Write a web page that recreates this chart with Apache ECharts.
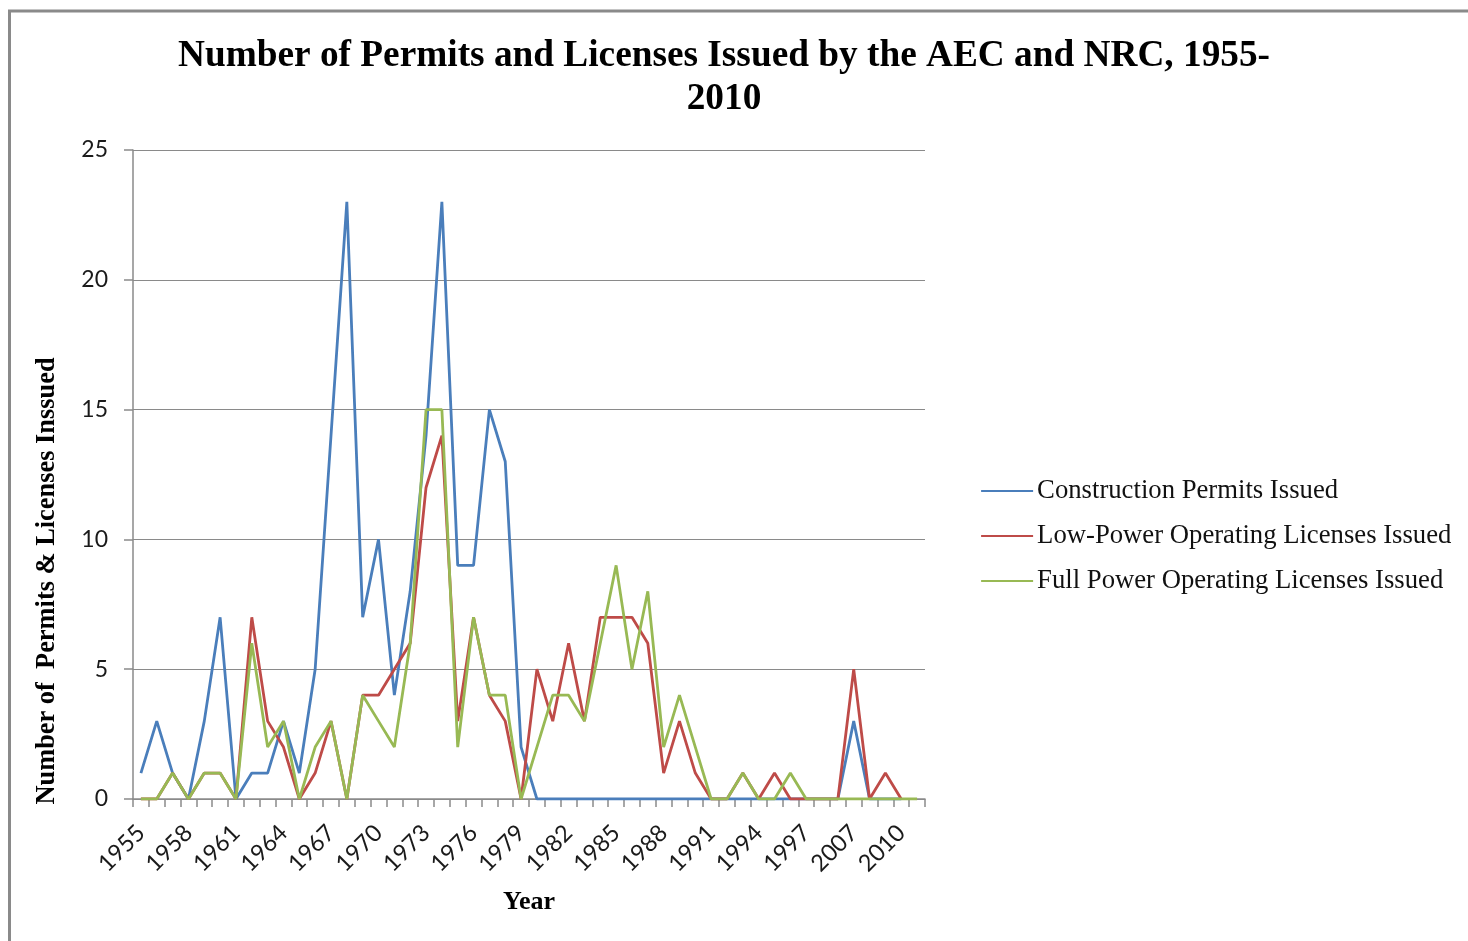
<!DOCTYPE html>
<html>
<head>
<meta charset="utf-8">
<script src="https://cdn.jsdelivr.net/npm/echarts@6/dist/echarts.min.js"></script>
<style>
html,body{margin:0;padding:0;background:#fff;}
#chart{width:1468px;height:941px;}
</style>
</head>
<body>
<div id="chart"></div>
<script>
// ---- data ----
const years = [
  '1955','1956','1957','1958','1959','1960','1961','1962','1963','1964',
  '1965','1966','1967','1968','1969','1970','1971','1972','1973','1974',
  '1975','1976','1977','1978','1979','1980','1981','1982','1983','1984',
  '1985','1986','1987','1988','1989','1990','1991','1992','1993','1994',
  '1995','1996','1997','2005','2006','2007','2008','2009','2010','2011'
];
const constructionPermits = [
  1,3,1,0,3,7,0,1,1,3,
  1,5,14,23,7,10,4,8,14,23,
  9,9,15,13,2,0,0,0,0,0,
  0,0,0,0,0,0,0,0,0,0,
  0,0,0,0,0,3,0,0,0,null
];
const lowPowerLicenses = [
  0,0,1,0,1,1,0,7,3,2,
  0,1,3,0,4,4,5,6,12,14,
  3,7,4,3,0,5,3,6,3,7,
  7,7,6,1,3,1,0,0,1,0,
  1,0,0,0,0,5,0,1,0,null
];
const fullPowerLicenses = [
  0,0,1,0,1,1,0,6,2,3,
  0,2,3,0,4,3,2,6,15,15,
  2,7,4,4,0,2,4,4,3,6,
  9,5,8,2,4,2,0,0,1,0,
  0,1,0,0,0,0,0,0,0,0
];
const seriesNames = [
  'Construction Permits Issued',
  'Low-Power Operating Licenses Issued',
  'Full Power Operating Licenses Issued'
];
const yTicks = [0,5,10,15,20,25];

// ---- chart ----
const chart = echarts.init(document.getElementById('chart'), null, {renderer:'canvas'});
const serif = '"Liberation Serif","Times New Roman",serif';
const sans = 'Lato,"Liberation Sans",sans-serif';
const gray = '#8a8a8a';
const colors = ['#4A7EBB','#BE4B48','#98B954'];
const dataSets = [constructionPermits, lowPowerLicenses, fullPowerLicenses];

const option = {
  animation: false,
  backgroundColor: '#fff',
  color: colors,
  title: {
    text: 'Number of Permits and Licenses Issued by the AEC and NRC, 1955-\n2010',
    left: 724,
    top: 35,
    padding: 0,
    textAlign: 'center',
    textStyle: {
      fontFamily: serif, fontWeight: 'bold', fontSize: 37.3,
      lineHeight: 43, color: '#000'
    }
  },
  legend: {
    orient: 'vertical',
    left: 980,
    top: 476,
    padding: 0,
    itemWidth: 52,
    itemHeight: 14,
    itemGap: 15,
    data: seriesNames,
    itemStyle: { opacity: 0 },
    lineStyle: { width: 2.2 },
    textStyle: {
      fontFamily: serif, fontSize: 26.7, lineHeight: 30, color: '#111', padding: [0,0,0,-1]
    }
  },
  grid: { left: 133, right: 543, top: 150, bottom: 142, containLabel: false },
  xAxis: {
    type: 'category',
    data: years,
    boundaryGap: true,
    name: 'Year',
    nameLocation: 'middle',
    nameGap: 90,
    nameTextStyle: { fontFamily: serif, fontWeight: 'bold', fontSize: 26, color: '#000' },
    axisLine: { show: true, lineStyle: { color: gray, width: 1.5 } },
    axisTick: { show: true, interval: 0, length: 8, alignWithLabel: false, lineStyle: { color: gray, width: 1.5 } },
    axisLabel: {
      interval: 2, rotate: 45, margin: 30,
      fontFamily: sans, fontSize: 23.5, color: '#1a1a1a'
    },
    splitLine: { show: false }
  },
  yAxis: {
    type: 'value',
    min: yTicks[0],
    max: yTicks[yTicks.length - 1],
    interval: 5,
    axisLine: { show: true, lineStyle: { color: gray, width: 1.5 } },
    axisTick: { show: true, length: 9, lineStyle: { color: gray, width: 1.5 } },
    axisLabel: { margin: 25, fontFamily: sans, fontSize: 23, color: '#1a1a1a' },
    splitLine: { show: true, lineStyle: { color: gray, width: 1.2 } }
  },
  graphic: [
    {
      type: 'rect',
      shape: { x: 9.5, y: 11, width: 1480, height: 950 },
      style: { fill: 'none', stroke: gray, lineWidth: 3 },
      silent: true
    },
    {
      type: 'text',
      x: 47, y: 581,
      rotation: Math.PI / 2,
      style: {
        text: 'Number of  Permits & Licenses Inssued',
        fontFamily: serif, fontWeight: 'bold', fontSize: 26.4, fill: '#000',
        align: 'center', verticalAlign: 'middle'
      }
    }
  ],
  series: seriesNames.map((name, i) => ({
    name: name,
    type: 'line',
    data: dataSets[i],
    symbol: 'none',
    showSymbol: false,
    connectNulls: false,
    lineStyle: { width: 2.8, color: colors[i] },
    itemStyle: { color: colors[i] },
    z: 2 + i
  }))
};
chart.setOption(option);
</script>
</body>
</html>
